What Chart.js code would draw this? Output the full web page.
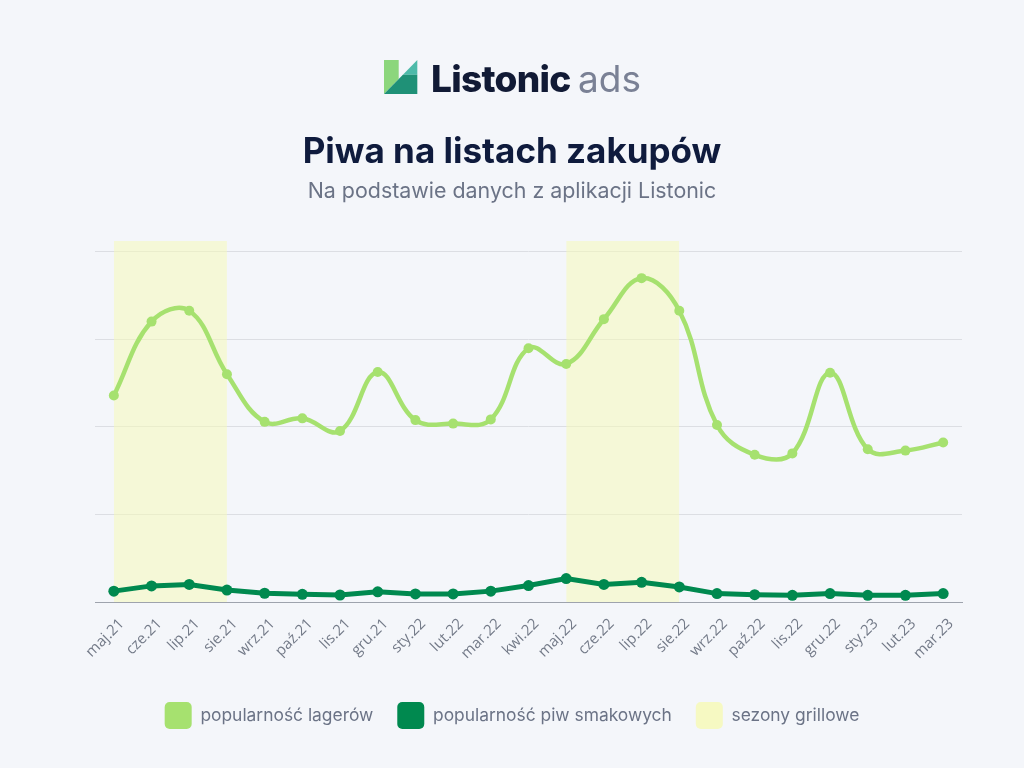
<!DOCTYPE html>
<html>
<head>
<meta charset="utf-8">
<script src="https://cdn.jsdelivr.net/npm/chart.js@4"></script>
<style>
  html, body { margin: 0; padding: 0; background: #f4f6fa; }
  body { width: 1024px; height: 768px; position: relative; overflow: hidden; font-family: Inter, "Noto Sans", sans-serif; }
  #chartWrap { position: absolute; left: 0; top: 0; width: 1024px; height: 768px; }
  .abs { position: absolute; white-space: nowrap; line-height: 1; }
  #logoText1 { left: 431px; top: 60px; font-size: 37px; font-weight: 800; color: #111a35; letter-spacing: -0.7px; }
  #logoText2 { left: 578px; top: 60px; font-size: 37px; font-weight: 400; color: #7a8195; }
  #title { left: 0; width: 1024px; text-align: center; top: 133px; font-size: 35px; font-weight: 700; color: #0f1b3d; }
  #subtitle { left: 0; width: 1024px; text-align: center; top: 180px; font-size: 21.4px; font-weight: 400; color: #6b7386; }
  #logoIcon { position: absolute; left: 384px; top: 60px; }
</style>
</head>
<body>
<div id="chartWrap"><canvas id="c" width="1024" height="768"></canvas></div>
<svg id="logoIcon" width="34" height="34" viewBox="0 0 34 34">
  <polygon points="0,0 14.7,0 14.7,19 0,34" fill="#8cd67c"/>
  <polygon points="18.9,14.7 33.3,0 33.3,14.7" fill="#4dbaa9"/>
  <polygon points="0,34 18.9,14.7 33.3,14.7 33.3,34" fill="#1f9177"/>
</svg>
<div class="abs" id="logoText1">Listonic</div>
<div class="abs" id="logoText2">ads</div>
<div class="abs" id="title">Piwa na listach zakupów</div>
<div class="abs" id="subtitle">Na podstawie danych z aplikacji Listonic</div>
<script>
const categories = ['maj.21','cze.21','lip.21','sie.21','wrz.21','paź.21','lis.21','gru.21','sty.22','lut.22','mar.22','kwi.22','maj.22','cze.22','lip.22','sie.22','wrz.22','paź.22','lis.22','gru.22','sty.23','lut.23','mar.23'];
const lagerValues = [58.9, 80.0, 83.1, 65.0, 51.4, 52.4, 48.8, 65.6, 51.9, 50.9, 52.1, 72.4, 67.9, 80.7, 92.4, 83.1, 50.5, 42.0, 42.4, 65.4, 43.6, 43.2, 45.5];
const flavoredValues = [3.1, 4.6, 5.0, 3.4, 2.5, 2.2, 2.0, 2.9, 2.3, 2.3, 3.1, 4.7, 6.7, 5.0, 5.6, 4.3, 2.4, 2.1, 1.9, 2.4, 1.9, 1.9, 2.4];
const grillSeason = [103, 103, 103, 103, null, null, null, null, null, null, null, null, 103, 103, 103, 103, null, null, null, null, null, null, null];
const seriesNames = ['popularność lagerów', 'popularność piw smakowych', 'sezony grillowe'];
const yTicks = [0, 25, 50, 75, 100];

const LAGER = '#a6e16f';
const FLAV = '#00894f';
const BAND_FILL = 'rgba(245,250,185,0.55)';
const BAND_LEGEND = '#f6f9c2';

new Chart(document.getElementById('c'), {
  type: 'line',
  data: {
    labels: categories,
    datasets: [
      {
        label: seriesNames[0], data: lagerValues, borderColor: LAGER, backgroundColor: LAGER,
        borderWidth: 4.5, pointRadius: 5, pointBackgroundColor: LAGER, pointBorderWidth: 0,
        tension: 0.4, fill: false, order: 1
      },
      {
        label: seriesNames[1], data: flavoredValues, borderColor: FLAV, backgroundColor: FLAV,
        borderWidth: 5, pointRadius: 5.5, pointBackgroundColor: FLAV, pointBorderWidth: 0,
        tension: 0, fill: false, order: 2
      },
      {
        label: seriesNames[2], data: grillSeason, borderColor: 'rgba(0,0,0,0)', backgroundColor: BAND_FILL,
        borderWidth: 0, pointRadius: 0, tension: 0, fill: 'origin', spanGaps: false, order: 3
      }
    ]
  },
  options: {
    responsive: false,
    animation: false,
    layout: { padding: { top: 241, left: 62, right: 62, bottom: 29 } },
    plugins: {
      tooltip: { enabled: false },
      legend: {
        position: 'bottom',
        labels: {
          boxWidth: 27, boxHeight: 27, padding: 24,
          useBorderRadius: true, borderRadius: 5,
          color: '#6b7386',
          font: { family: 'Inter', size: 17.4 },
          generateLabels(chart) {
            const items = Chart.defaults.plugins.legend.labels.generateLabels(chart);
            items.forEach((it) => {
              it.lineWidth = 0;
              it.strokeStyle = 'rgba(0,0,0,0)';
              if (it.text === seriesNames[2]) it.fillStyle = BAND_LEGEND;
              it.borderRadius = 5;
            });
            return items;
          }
        }
      }
    },
    scales: {
      x: {
        offset: true,
        grid: { display: false },
        border: { display: true, color: '#9ea3ad', width: 1 },
        ticks: {
          minRotation: 45, maxRotation: 45, autoSkip: false,
          color: '#737a88', font: { family: 'Open Sans', size: 15 }, padding: 5, labelOffset: 8
        },
        afterFit(scale) { scale.height = 76; }
      },
      y: {
        min: 0, max: 103,
        afterBuildTicks(scale) { scale.ticks = yTicks.map(v => ({ value: v })); },
        afterFit(scale) { scale.width = 33; },
        grid: { color: '#dcdee3', lineWidth: 1, drawTicks: false },
        border: { display: false },
        ticks: { display: false }
      }
    }
  }
});
</script>
</body>
</html>
